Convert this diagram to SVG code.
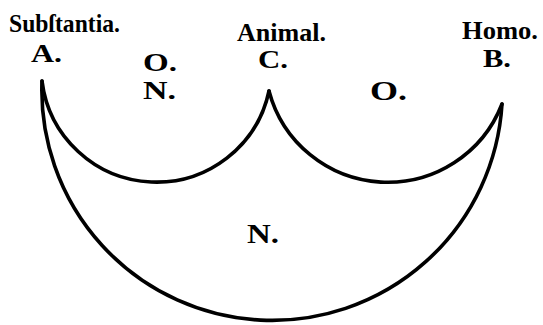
<svg xmlns="http://www.w3.org/2000/svg" width="543" height="325" viewBox="0 0 543 325">
<style>
.lbl{font-family:"Liberation Serif","Times New Roman",serif;font-weight:bold;fill:#000;}
.arc{fill:none;stroke:#000;stroke-width:3.6;stroke-linecap:round;stroke-linejoin:miter;}
</style>
<rect width="543" height="325" fill="#fff"/>
<g id="connectors">
<path class="arc" d="M42,81 A230.3,230.3 0 0 0 502,104"/>
<path class="arc" d="M42,81 A115.2,115.2 0 0 0 269,91"/>
<path class="arc" d="M269,91 A122.7,122.7 0 0 0 502,104"/>
</g>
<g id="node-A">
<text class="lbl" x="9" y="32" font-size="25" textLength="111" lengthAdjust="spacingAndGlyphs">Subſtantia.</text>
<text class="lbl" x="31" y="62" font-size="25" textLength="31" lengthAdjust="spacingAndGlyphs">A.</text>
</g>
<g id="node-C">
<text class="lbl" x="237" y="41" font-size="25" textLength="89" lengthAdjust="spacingAndGlyphs">Animal.</text>
<text class="lbl" x="258" y="68" font-size="25" textLength="30" lengthAdjust="spacingAndGlyphs">C.</text>
</g>
<g id="node-B">
<text class="lbl" x="462" y="39" font-size="25" textLength="76" lengthAdjust="spacingAndGlyphs">Homo.</text>
<text class="lbl" x="483" y="67" font-size="25" textLength="28" lengthAdjust="spacingAndGlyphs">B.</text>
</g>
<g id="region-labels">
<text class="lbl" x="143" y="71" font-size="26" textLength="34" lengthAdjust="spacingAndGlyphs">O.</text>
<text class="lbl" x="143" y="99" font-size="26" textLength="33" lengthAdjust="spacingAndGlyphs">N.</text>
<text class="lbl" x="370" y="100" font-size="27" textLength="37" lengthAdjust="spacingAndGlyphs">O.</text>
<text class="lbl" x="247" y="243" font-size="27" textLength="32" lengthAdjust="spacingAndGlyphs">N.</text>
</g>
</svg>
